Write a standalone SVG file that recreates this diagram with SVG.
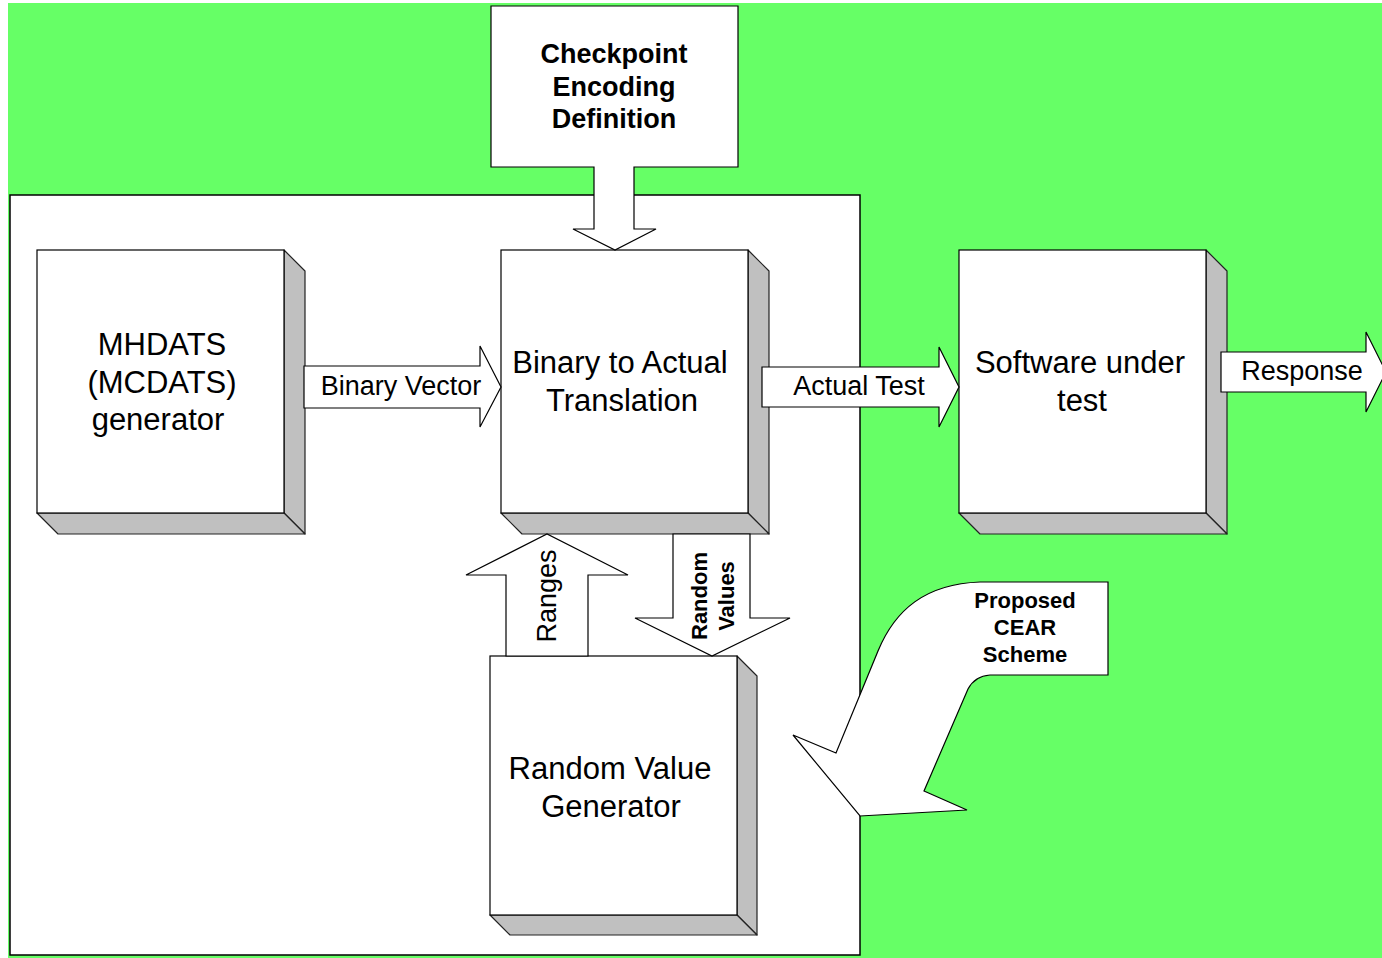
<svg xmlns="http://www.w3.org/2000/svg" width="1382" height="958" viewBox="0 0 1382 958">
  <style>
    .front { fill: #ffffff; stroke: #000000; stroke-width: 1.2; }
    .side { fill: #c0c0c0; stroke: #222222; stroke-width: 1.2; stroke-linejoin: round; }
    .arrow { fill: #ffffff; stroke: #000000; stroke-width: 1.2; stroke-linejoin: miter; }
    .big { font-family: "Liberation Sans", Arial, sans-serif; font-size: 31px; fill: #000; text-anchor: middle; }
    .lbl { font-family: "Liberation Sans", Arial, sans-serif; font-size: 27px; fill: #000; text-anchor: middle; }
    .bold { font-family: "Liberation Sans", Arial, sans-serif; font-weight: bold; fill: #000; text-anchor: middle; }
  </style>

  <!-- background and system frame -->
  <rect x="8" y="3" width="1374" height="955" fill="#66ff66"/>
  <rect id="frame" x="10" y="195" width="850" height="760" fill="#ffffff" stroke="#000000" stroke-width="1.5"/>

  <!-- generator block -->
  <g id="mhdats">
    <polygon class="side" points="284,250 305,271 305,534 284,513"/>
    <polygon class="side" points="37,513 284,513 305,534 58,534"/>
    <rect class="front" x="37" y="250" width="247" height="263"/>
    <text class="big" x="162" y="355">MHDATS</text>
    <text class="big" x="162" y="393">(MCDATS)</text>
    <text class="big" x="158" y="430">generator</text>
  </g>

  <!-- translation block -->
  <g id="translation">
    <polygon class="side" points="748,250 769,271 769,534 748,513"/>
    <polygon class="side" points="501,513 748,513 769,534 522,534"/>
    <rect class="front" x="501" y="250" width="247" height="263"/>
    <text class="big" x="620" y="373">Binary to Actual</text>
    <text class="big" x="622" y="411">Translation</text>
  </g>

  <!-- system under test -->
  <g id="software">
    <polygon class="side" points="1206,250 1227,271 1227,534 1206,513"/>
    <polygon class="side" points="959,513 1206,513 1227,534 980,534"/>
    <rect class="front" x="959" y="250" width="247" height="263"/>
    <text class="big" x="1080" y="373">Software under</text>
    <text class="big" x="1082" y="411">test</text>
  </g>

  <!-- random value generator -->
  <g id="random-generator">
    <polygon class="side" points="737,656 757,676 757,935 737,915"/>
    <polygon class="side" points="490,915 737,915 757,935 510,935"/>
    <rect class="front" x="490" y="656" width="247" height="259"/>
    <text class="big" x="610" y="779">Random Value</text>
    <text class="big" x="611" y="817">Generator</text>
  </g>

  <!-- encoding definition callout -->
  <g id="checkpoint">
    <path class="arrow" d="M491,6 H738 V167 H634 V229 H656 L615,250 L573,229 H594 V167 H491 Z"/>
    <text class="bold" font-size="27" x="614" y="63">Checkpoint</text>
    <text class="bold" font-size="27" x="614" y="96">Encoding</text>
    <text class="bold" font-size="27" x="614" y="128">Definition</text>
  </g>

  <!-- scheme callout -->
  <g id="cear-scheme">
    <path class="arrow" d="M980,582 H1108 V675 H990 Q975,676 968,689 L924,791 L967,810 L860,816 L793,735 L836,753 L878,651 C895,610 925,584 980,582 Z"/>
    <text class="bold" font-size="22" x="1025" y="608">Proposed</text>
    <text class="bold" font-size="22" x="1025" y="635">CEAR</text>
    <text class="bold" font-size="22" x="1025" y="662">Scheme</text>
  </g>

  <!-- connectors -->
  <g id="connectors">
    <g id="binary-vector">
      <path class="arrow" d="M304,366 H480 V346 L501,387 L480,427 V408 H304 Z"/>
      <text class="lbl" x="401" y="395">Binary Vector</text>
    </g>
    <g id="actual-test">
      <path class="arrow" d="M762,367 H939 V347 L959,387 L939,427 V407 H762 Z"/>
      <text class="lbl" x="859" y="395">Actual Test</text>
    </g>
    <g id="response">
      <path class="arrow" d="M1221,352 H1366 V332 L1386,372 L1366,412 V392 H1221 Z"/>
      <text class="lbl" x="1302" y="380">Response</text>
    </g>
    <g id="ranges">
      <path class="arrow" d="M506,656 V575 H466 L547,534 L628,575 H588 V656 Z"/>
      <text class="lbl" font-size="29" transform="translate(556,596) rotate(-90)">Ranges</text>
    </g>
    <g id="random-values">
      <path class="arrow" d="M673,534 V618 H635 L712,656 L790,618 H750 V534 Z"/>
      <text class="bold" font-size="22" transform="translate(707,596) rotate(-90)">Random</text>
      <text class="bold" font-size="22" transform="translate(734,596) rotate(-90)">Values</text>
    </g>
  </g>
</svg>
